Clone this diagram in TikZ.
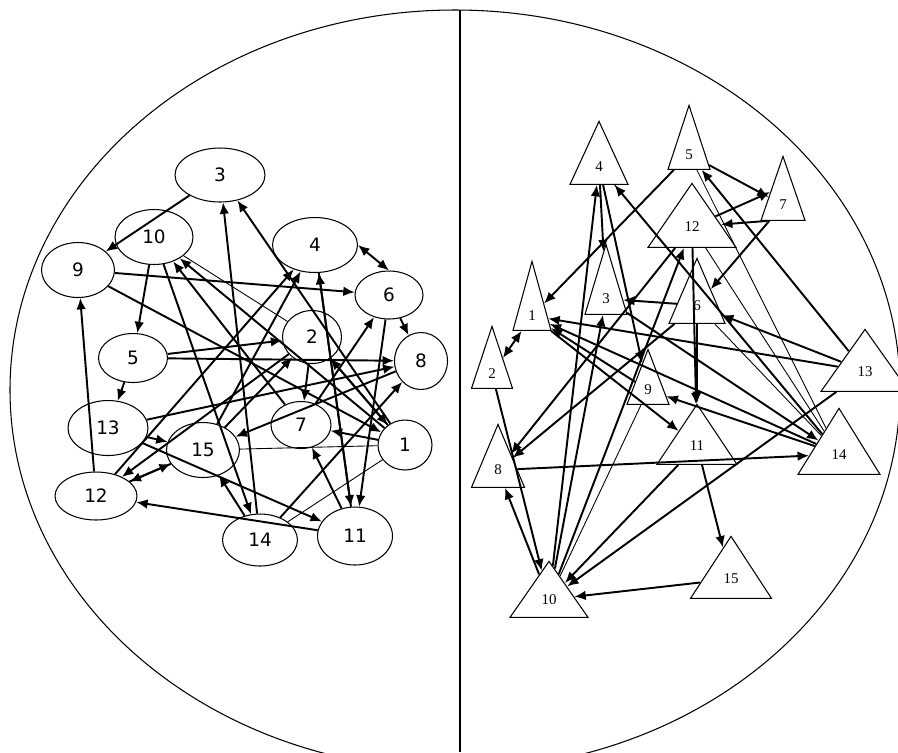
\documentclass[tikz,border=0pt]{standalone}
\usepackage{fontspec}
\setmainfont{DejaVu Sans}
\newfontfamily\trifont{Liberation Serif}
\usetikzlibrary{arrows.meta}
\usetikzlibrary{shapes.geometric}

\begin{document}
\begin{tikzpicture}[x=0.02cm, y=-0.02cm,
    ell/.style={ellipse, draw, line width=0.6pt, inner sep=0pt, font=\fontsize{10.5}{12}\selectfont},
    tri/.style={isosceles triangle, isosceles triangle stretches, shape border rotate=90, draw, line width=0.6pt, inner sep=0pt, anchor=apex, font=\trifont\fontsize{8.5}{10}\selectfont},
    arr/.style={line width=1.1pt, -{Latex[length=6.5pt,width=5.5pt]}},
    both/.style={line width=1.1pt, {Latex[length=6.5pt,width=5.5pt]}-{Latex[length=6.5pt,width=5.5pt]}},
    thin/.style={line width=0.5pt}]

  \useasboundingbox (0,0) rectangle (898,752);

  % outer ellipse and the dividing line
  \draw[line width=0.6pt] (455,390) ellipse [x radius=445, y radius=380];
  \coordinate (top) at (460,10);
  \coordinate (bottom) at (460,752);
  \draw[line width=0.8pt] (top) -- (bottom);

  % left half: ellipses
  \foreach \n/\x/\y/\w/\h in {1/405/445/1.08/1.0, 2/312/337/1.18/1.06, 3/220/175/1.8/1.08,
      4/315/245/1.7/1.1, 5/133/358/1.38/0.98, 6/389/295/1.36/0.96, 7/301/425/1.2/0.94,
      8/421/361/1.06/1.14, 9/78/270/1.46/1.1, 10/154/237/1.56/1.1, 11/355/536/1.5/1.16,
      12/96/496/1.64/0.96, 13/108/428/1.6/1.1, 14/260/540/1.5/1.04, 15/203/450/1.46/1.1}
    \node[ell, minimum width=\w cm, minimum height=\h cm] (l\n) at (\x,\y) {\n};

  % right half: triangles (apex, base width, height)
  \foreach \n/\x/\y/\w/\h in {1/532/260/0.76/1.38, 2/492/325/0.82/1.24, 3/606/243/0.84/1.4,
      4/599/120/1.16/1.26, 5/689/104/0.84/1.28, 6/697/257/1.12/1.3, 7/783/155/0.88/1.28,
      8/498/423/1.06/1.26, 9/648/348/0.84/1.1, 10/549/560/1.56/1.12, 11/697/403/1.6/1.2,
      12/692/182/1.76/1.28, 13/865/328/1.76/1.24, 14/839/407/1.64/1.32, 15/731/535/1.62/1.24}
    \node[tri, minimum width=\w cm, minimum height=\h cm] (r\n) at (\x,\y) {\n};

  % left connectors
  \foreach \a/\b in {3/9, 10/5, 5/13, 12/9, 6/8, 9/6, 9/1, 1/3, 14/3, 10/14, 7/10, 1/10,
      5/2, 5/8, 13/8, 13/15, 15/12, 2/12, 12/4, 15/4, 8/15, 14/15, 11/12, 13/11, 11/7,
      1/7, 14/8, 11/4, 4/11, 6/11, 2/7, 7/6, 15/2, 1/2, 2/1, 12/15}
    \draw[arr] (l\a) -- (l\b);
  \draw[both] (l4.east) -- (l6.north);
  \foreach \a/\b in {15/1, 1/14, 10/2}
    \draw[thin] (l\a) -- (l\b);

  % right connectors
  \foreach \a/\b in {4/3, 10/4, 14/4, 5/7, 7/6, 5/1, 13/5, 6/3, 13/6, 14/1, 9/1, 1/11,
      2/10, 10/8, 8/14, 6/8, 12/8, 10/12, 10/3, 15/10, 11/10, 13/10, 11/15, 3/14, 4/9,
      14/9, 12/11, 6/11, 13/1}
    \draw[arr] (r\a) -- (r\b);
  \draw[arr] (r12) -- (r7.north west);
  \draw[arr] (r7.south west) -- (r12);
  \draw[both] (r1) -- (r2);
  \foreach \a/\b in {4/14, 9/10, 5/14, 12/14, 6/14}
    \draw[thin] (r\a) -- (r\b);

\end{tikzpicture}
\end{document}
